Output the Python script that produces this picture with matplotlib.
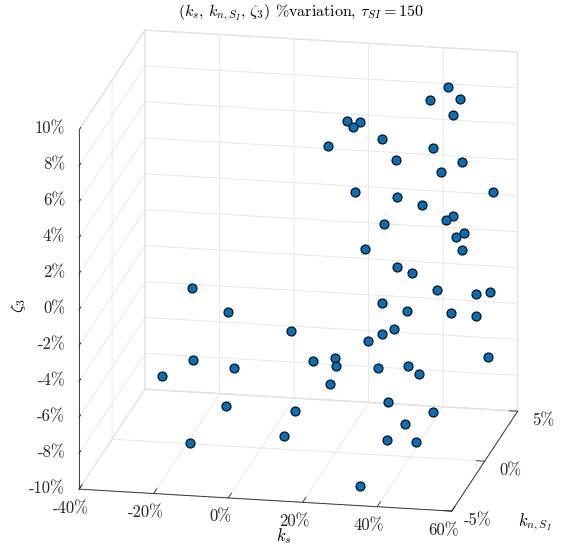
import matplotlib
matplotlib.use('Agg')
import numpy as np
import matplotlib.pyplot as plt
from matplotlib.ticker import NullFormatter
from matplotlib.transforms import offset_copy
from mpl_toolkits.mplot3d import proj3d

plt.rcParams['font.family'] = ['cmr10', 'DejaVu Serif']
plt.rcParams['mathtext.fontset'] = 'cm'
plt.rcParams['axes.formatter.use_mathtext'] = True
plt.rcParams['grid.color'] = '#e3e3e3'
plt.rcParams['grid.linewidth'] = 0.6
plt.rcParams['xtick.color'] = '#262626'
plt.rcParams['ytick.color'] = '#262626'

# data (% variation)
ks = [44.9, 41.9, 46.2, 49.7, 21.4, 24.7, 23.1, 34.2, 21.6, 49.7,
      34.3, 46.8, 53.5, 32.4, 36.4, 46.6, 56.9, 48.0, 51.4, 38.3,
      50.6, 47.4, 53.9, 22.7, 38.2, 36.9, 54.3, 56.0, 54.3, 35.9,
      39.1, 45.6, 54.2, 34.0, 37.7, 30.4, 16.4, 53.9, -18.5, -5.4,
      2.7, -13.1, 15.8, -9.1, -30.2, 27.3, 18.6, -5.9, 7.4, 11.4,
      -17.4, 26.0, 42.9, 35.2, 34.1, 53.1, 40.4, 39.0, 45.2, 33.5]
kn = [3.0, 2.0, 4.0, 1.0, 1.0, 0.0, 2.0, -1.0, -2.0, -2.0,
      1.0, 4.0, -3.0, -4.0, 0.0, -2.0, 3.0, 2.0, -1.0, -3.0,
      1.0, 4.0, 0.0, 3.0, -1.0, 2.0, -4.0, 1.0, 4.0, -2.0,
      0.0, 3.0, 2.0, 1.0, -3.0, -1.0, 2.0, 4.0, 0.0, -2.0,
      3.0, -3.0, -1.0, 1.0, 2.0, -4.0, 0.0, -2.0, 1.0, -3.0,
      -1.0, 3.0, -2.0, 4.0, 0.0, -4.0, -1.0, -3.0, -2.0, -4.0]
zeta3 = [9.0, 8.8, 7.8, 8.6, 7.9, 8.2, 7.3, 8.2, 8.2, 8.4,
         5.9, 4.3, 7.7, 6.9, 4.4, 5.2, 3.3, 2.4, 3.9, 4.6,
         1.8, 0.3, 1.7, -0.3, 1.1, -0.9, 1.7, -1.3, -2.9, -0.4,
         -1.9, -3.6, -3.1, -3.5, -1.5, -3.1, -5.9, -6.5, -1.3, -1.4,
         -5.1, -3.6, -4.4, -6.2, -7.5, -2.9, -6.2, -6.6, -8.4, -7.5,
         -9.4, -6.9, -3.8, -7.7, -7.0, -5.1, -7.6, -7.4, -8.0, -9.5]

ks_ticks = [-40, -20, 0, 20, 40, 60]
ks_labels = ['-40%', '-20%', '0%', '20%', '40%', '60%']
kn_ticks = [-5, 0, 5]
kn_labels = ['-5%', '0%', '5%']
z_ticks = [-10, -8, -6, -4, -2, 0, 2, 4, 6, 8, 10]
z_labels = ['-10%', '-8%', '-6%', '-4%', '-2%', '0%', '2%', '4%', '6%', '8%', '10%']

fig = plt.figure(figsize=(5.61, 5.47), dpi=100)
ax = fig.add_axes([0.0187, -0.0082, 1, 1], projection='3d')
ax.set_proj_type('ortho')
ax.view_init(elev=17.4, azim=-78.84)
ax.set_box_aspect((380.2, 340.8, 376.8), zoom=1.125)

ax.scatter(ks, kn, zeta3, s=42, c='#0072BD', edgecolors='black',
           linewidths=0.8, depthshade=False)

ax.set_xlim(-40, 60)
ax.set_ylim(-5, 5)
ax.set_zlim(-10, 10)
ax.zaxis.set_ticks_position('lower')
ax.set_xticks(ks_ticks)
ax.set_yticks(kn_ticks)
ax.set_zticks(z_ticks)

tick_out = {'x': 0.6, 'y': 0.28, 'z': 0.32}
for name, axis in (('x', ax.xaxis), ('y', ax.yaxis), ('z', ax.zaxis)):
    axis.set_major_formatter(NullFormatter())
    axis.set_pane_color((1, 1, 1, 1))
    axis.pane.set_edgecolor('#e3e3e3')
    axis.line.set_color('#262626')
    axis.line.set_linewidth(0.6)
    axis._axinfo['tick']['inward_factor'] = 0.0
    axis._axinfo['tick']['outward_factor'] = tick_out[name]
    axis._axinfo['tick']['linewidth'] = {True: 0.6, False: 0.5}

ax.set_xlabel('')
ax.set_ylabel('')
ax.set_zlabel('')

# tick labels: placed at the projected tick positions (library projection)
fig.canvas.draw()
M = ax.get_proj()
x0, x1 = ax.get_xlim()
y0, y1 = ax.get_ylim()
z0, z1 = ax.get_zlim()
tc = '#262626'


def tick_texts(xs, ys, zs, labels, dx, dy, **kw):
    px, py, _ = proj3d.proj_transform(np.asarray(xs, float), np.asarray(ys, float),
                                      np.asarray(zs, float), M)
    tr = offset_copy(ax.transData, fig=fig, x=dx, y=dy, units='dots')
    for a, b, lab in zip(px, py, labels):
        ax.text2D(a, b, lab, transform=tr, fontsize=12, color=tc, **kw)


n_z, n_x, n_y = len(z_ticks), len(ks_ticks), len(kn_ticks)
tick_texts([x0] * n_z, [y0] * n_z, z_ticks, z_labels, -14, 1, ha='right', va='center')
tick_texts(ks_ticks, [y0] * n_x, [z0] * n_x, ks_labels, -8, -19, ha='center', va='center')
tick_texts([x1] * n_y, kn_ticks, [z0] * n_y, kn_labels, 26, -9, ha='center', va='center')

fig.text(284 / 561, 1 - 536 / 547, r'$k_s$', fontsize=12, ha='center', va='center')
fig.text(535 / 561, 1 - 522 / 547, r'$k_{n,S_I}$', fontsize=12, ha='center', va='center')
fig.text(19 / 561, 1 - 306 / 547, r'$\zeta_3$', fontsize=12, ha='center', va='center',
         rotation=90)
fig.text(301 / 561, 1 - 13 / 547,
         r'$(k_s,\, k_{n,S_I},\, \zeta_3)$ %variation, $\tau_{SI}=150$',
         fontsize=11.5, ha='center', va='center')

fig.savefig('out.png', dpi=100)
